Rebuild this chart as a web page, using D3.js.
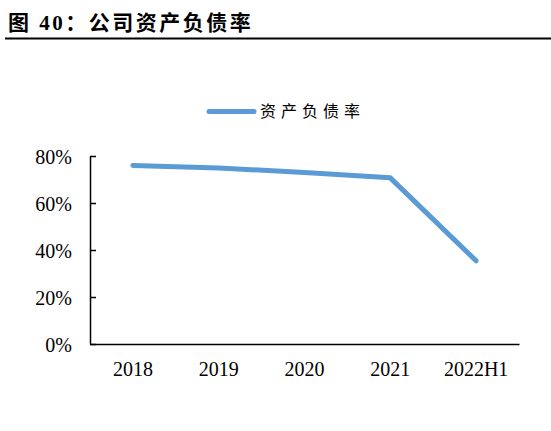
<!DOCTYPE html>
<html lang="zh">
<head>
<meta charset="UTF-8">
<title>公司资产负债率</title>
<script src="https://cdn.jsdelivr.net/npm/d3@7/dist/d3.min.js"></script>
<style>
    body { margin: 0; background: #fff; }
    svg { display: block; }
    .title { font-family: "Liberation Serif", "Noto Sans CJK SC", serif; font-weight: bold; font-size: 21px; letter-spacing: 2.5px; }
    .tick text { font-family: "Liberation Serif", serif; font-size: 20px; fill: #000; }
    .legend text { font-family: "Noto Sans CJK SC", sans-serif; font-size: 16px; letter-spacing: 5px; }
</style>
</head>
<body>
<div id="chart"></div>
<script>
    // data
    const years = ["2018", "2019", "2020", "2021", "2022H1"];
    const debtRatio = [0.760, 0.749, 0.730, 0.707, 0.354];
    const yTicks = [0, 0.2, 0.4, 0.6, 0.8];
    const seriesName = "资产负债率";

    const width = 551, height = 431;
    const svg = d3.select("#chart").append("svg")
        .attr("width", width)
        .attr("height", height);

    // title + rule under it
    svg.append("text")
        .attr("class", "title")
        .attr("x", 8)
        .attr("y", 30)
        .text("图 40：公司资产负债率");
    svg.append("line")
        .attr("x1", 5).attr("x2", width)
        .attr("y1", 38.5).attr("y2", 38.5)
        .attr("stroke", "#000")
        .attr("stroke-width", 2);

    const plotL = 90, plotR = 519, plotT = 156, plotB = 344;

    const x = d3.scaleBand().domain(years).range([plotL, plotR]);
    const y = d3.scaleLinear().domain([0, 0.8]).range([plotB, plotT]);

    // y axis, ticks pointing into the plot
    const yAxis = svg.append("g")
        .attr("transform", `translate(${plotL},0)`)
        .call(d3.axisLeft(y).tickValues(yTicks).tickSizeInner(-6).tickSizeOuter(0)
            .tickPadding(24).tickFormat(d3.format(".0%")));
    yAxis.select(".domain").attr("stroke", "#000").attr("stroke-width", 1.5);
    yAxis.selectAll(".tick line").attr("stroke", "#000").attr("stroke-width", 1.5);
    yAxis.selectAll(".tick text").attr("x", -18).attr("dy", "0.35em");

    // x axis, no ticks
    const xAxis = svg.append("g")
        .attr("transform", `translate(0,${plotB})`)
        .call(d3.axisBottom(x).tickSize(0).tickPadding(18));
    xAxis.select(".domain").attr("stroke", "#000").attr("stroke-width", 1.5);

    // series
    const line = d3.line()
        .x((d, i) => x(years[i]) + x.bandwidth() / 2)
        .y(d => y(d));

    svg.append("path")
        .datum(debtRatio)
        .attr("fill", "none")
        .attr("stroke", "#5B9BD5")
        .attr("stroke-width", 5)
        .attr("stroke-linecap", "round")
        .attr("stroke-linejoin", "round")
        .attr("d", line);

    // legend
    const legend = svg.append("g").attr("class", "legend");
    legend.append("line")
        .attr("x1", 209).attr("x2", 254)
        .attr("y1", 111.5).attr("y2", 111.5)
        .attr("stroke", "#5B9BD5")
        .attr("stroke-width", 5)
        .attr("stroke-linecap", "round");
    legend.append("text")
        .attr("x", 260)
        .attr("y", 117)
        .text(seriesName);
</script>
</body>
</html>
